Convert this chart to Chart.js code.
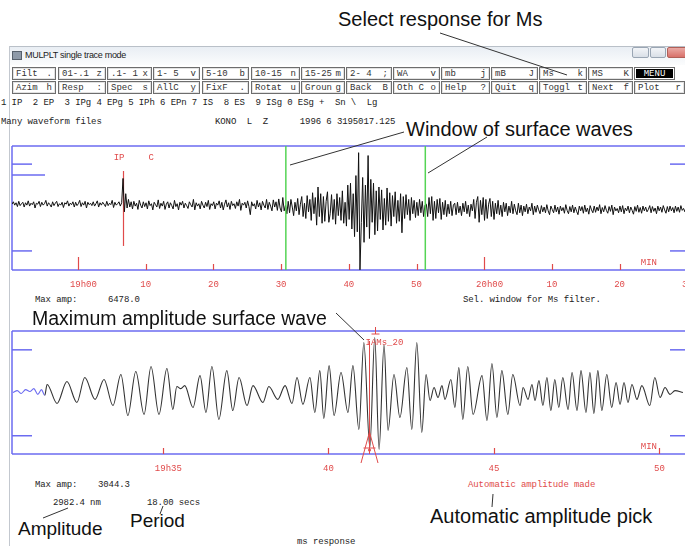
<!DOCTYPE html>
<html><head><meta charset="utf-8">
<script src="https://cdn.jsdelivr.net/npm/chart.js@4.4.1/dist/chart.umd.min.js"></script>
<style>
html,body{margin:0;padding:0;background:#fff;}
#win{position:relative;width:685px;height:546px;overflow:hidden;background:#fff;font-family:"Liberation Mono",monospace;}
.t{position:absolute;white-space:pre;font-size:9px;line-height:10px;color:#222;letter-spacing:-0.1px;}
.red{color:#e04a4a;}
.big{position:absolute;white-space:nowrap;font-family:"Liberation Sans",Arial,sans-serif;font-size:20px;line-height:20px;color:#111;}
.btn{position:absolute;height:13px;box-sizing:border-box;border:1px solid #6d6d6d;box-shadow:inset 0 0 0 1px #e2e2e2;display:flex;justify-content:space-between;align-items:center;padding:0 3px;font-size:9px;color:#333;background:#fff;white-space:pre;}
.btn.menu{background:#000;color:#fff;box-shadow:inset 0 0 0 1px #fff;justify-content:center;}
canvas{position:absolute;left:0;}
.wc{position:absolute;top:47px;height:11px;box-sizing:border-box;border:1px solid #9aa6b4;border-radius:2px;background:linear-gradient(#f3f5f8,#d9dfe7);}
</style>
</head><body>
<div id="win">
  <div style="position:absolute;left:9px;top:46px;width:676px;height:18px;background:linear-gradient(#e9eef4,#fbfcfd);border-top:1px solid #b9c0c8;"></div>
  <div style="position:absolute;left:9px;top:46px;width:1px;height:500px;background:#c3c8cf;"></div>
  <div style="position:absolute;left:12px;top:51px;width:8px;height:7px;background:#8d99a8;border:1px solid #56606c;"></div>
  <div style="position:absolute;left:25px;top:50px;font-family:'Liberation Sans',sans-serif;font-size:9px;letter-spacing:-0.3px;color:#222;white-space:nowrap;">MULPLT single trace mode</div>
  <div class="wc" style="left:632px;width:17px;"></div>
  <div class="wc" style="left:650px;width:16px;"></div>
  <div class="wc" style="left:667px;width:20px;background:linear-gradient(#eaa9a4,#d8716a);border-color:#b06058;"></div>

  <div id="menu"></div>

  <div class="t" style="left:1px;top:98px;">1 IP  2 EP  3 IPg 4 EPg 5 IPh 6 EPn 7 IS  8 ES  9 ISg 0 ESg +  Sn \  Lg</div>
  <div class="t" style="left:1px;top:117px;">Many waveform files</div>
  <div class="t" style="left:215px;top:117px;">KONO  L  Z      1996 6 3195017.125</div>

  <canvas id="c1" width="720" height="154" style="top:140px;"></canvas>
  <canvas id="c2" width="720" height="153" style="top:325px;"></canvas>

  <div class="t" style="left:35px;top:295px;">Max amp:</div>
  <div class="t" style="left:108px;top:295px;">6478.0</div>
  <div class="t" style="left:463px;top:295px;">Sel. window for Ms filter.</div>

  <div class="t" style="left:35px;top:480px;">Max amp:</div>
  <div class="t" style="left:98px;top:480px;">3044.3</div>
  <div class="t" style="left:53px;top:498px;">2982.4 nm</div>
  <div class="t" style="left:147px;top:498px;">18.00 secs</div>
  <div class="t red" style="left:468px;top:480px;">Automatic amplitude made</div>
  <div class="t" style="left:297px;top:537px;">ms response</div>

  <div class="big" style="left:338px;top:9px;">Select response for Ms</div>
  <div class="big" style="left:406px;top:119px;">Window of surface waves</div>
  <div class="big" style="left:32px;top:308px;font-size:19.5px;">Maximum amplitude surface wave</div>
  <div class="big" style="left:18px;top:519px;font-size:19px;">Amplitude</div>
  <div class="big" style="left:130px;top:511px;font-size:19px;">Period</div>
  <div class="big" style="left:430px;top:506px;">Automatic amplitude pick</div>

  <svg width="685" height="546" style="position:absolute;left:0;top:0;pointer-events:none;">
    <g stroke="#333" stroke-width="1" fill="none">
      <line x1="440" y1="33" x2="567" y2="75"/>
      <line x1="290" y1="165" x2="404" y2="132"/>
      <line x1="428" y1="173" x2="487" y2="137"/>
      <line x1="336" y1="313" x2="364" y2="340"/>
      <line x1="68" y1="508" x2="43" y2="518"/>
      <line x1="163" y1="506" x2="160" y2="514"/>
      <line x1="493" y1="494" x2="492" y2="507"/>
    </g>
  </svg>
</div>
<script>
// ---------------- data ----------------
// Menu buttons: [label, hotkey, left, right]
const menuRow1 = [["Filt",".",12,56],["01-.1","z",58,106],[".1- 1","x",107,152],["1- 5","v",153,200],["5-10","b",202,249],["10-15","n",251,300],["15-25","m",301,345],["2- 4",";",346,392],["WA","v",393,440],["mb","j",441,490],["mB","J",491,538],["Ms","k",539,587],["MS","K",588,633],["MENU","",634,675]];
const menuRow2 = [["Azim","h",12,56],["Resp",":",58,106],["Spec","s",107,152],["AllC","y",153,200],["FixF",".",202,249],["Rotat","u",251,300],["Groun","g",301,345],["Back","B",346,392],["Oth C","o",393,440],["Help","?",441,490],["Quit","q",491,538],["Toggl","t",539,587],["Next","f",588,633],["Plot","r",634,685]];

// Top trace: KONO L Z, minutes after 19h00, one sample every 0.2 min, counts
const TOP_T0 = -9.75, TOP_DT = 0.2;
const topAmps = [
  400,650,300,550,150,700,250,450,600,100,
  550,300,750,200,500,350,650,0,500,400,
  700,150,600,300,450,800,200,550,350,100,
  650,250,500,700,150,450,300,600,50,550,
  400,750,200,500,350,650,100,600,250,450,
  800,150,550,300,700,0,600,350,500,250,
  650,200,450,750,100,550,300,600,400,150,
  700,250,500,350,800,50,600,300,450,650,
  200,550,3100,-400,1500,0,900,100,650,-100,
  700,200,500,-150,800,300,0,650,150,550,
  -100,750,250,450,-200,600,350,100,850,-50,
  500,200,700,-150,400,650,0,550,250,-100,
  800,150,450,-200,600,300,700,0,500,250,
  -50,650,350,100,900,-200,550,200,450,-100,
  700,300,0,600,150,800,-150,450,250,650,
  -100,500,300,750,0,600,-200,400,850,100,
  550,-150,700,250,450,-50,650,200,900,-250,
  500,300,600,0,750,150,-700,650,200,450,
  -100,800,100,550,-200,700,300,0,900,-150,
  600,200,-300,850,100,650,-250,950,0,-400,
  1100,-300,300,-600,700,-500,900,100,-800,600,
  -300,1000,-700,400,1200,-900,500,-1100,1300,-400,
  900,-1300,1600,-600,1100,-1800,2200,-900,1500,-1600,
  1200,-1400,700,1700,-1500,-600,1400,-1200,900,-1700,
  1500,-800,1100,-1300,1800,-1600,600,-1900,2400,-1200,
  2600,-2200,1500,-3000,3400,-2500,5800,-6478,-1500,3200,
  -3600,2400,-2000,5500,-3200,3000,-1500,2600,-2800,1800,
  -2400,2200,-1200,1900,-2300,1000,-1800,2100,-1400,1600,
  -1900,1300,-900,1700,-1600,800,-1400,1500,-2600,1200,
  -1100,1400,-700,900,-1300,1100,-600,800,-1000,600,
  -800,900,-500,700,-900,300,400,-900,1100,-600,
  1200,-1300,700,-1100,900,-500,1000,-1200,600,-700,
  800,-900,400,-600,700,-800,300,500,-700,600,
  -500,200,-800,500,-400,700,-600,300,-900,400,
  -300,900,-1100,600,1200,-1500,800,-700,1100,-1300,
  900,-1100,400,1000,-900,700,-1200,500,-600,800,
  -700,300,-900,600,-400,500,-800,200,-500,700,
  -600,400,-300,-700,500,-500,300,-800,200,-400,
  400,-600,100,-300,500,-700,200,-450,300,-200,
  -600,250,-400,100,-500,350,-300,-700,200,-150,
  -500,300,-400,100,-650,200,-300,50,-550,350,
  -250,-600,150,-400,300,-500,100,-350,-700,200,
  -300,150,-550,300,-400,0,-650,250,-200,-500,
  200,-450,100,-300,350,-600,50,-400,250,-250,
  -550,150,-350,300,-700,100,-300,-50,-500,200,
  -400,250,-600,0,-300,200,-500,100,-250,-650,
  150,-350,300,-450,50,-550,200,-300,100,-400,
  -150,250,-500,150,-350,0,-600,200,-300,100,
  -450,250,-200,-550,150,-400,200,-300,50,-500,
  200,-350,100,-450,250,-250,-50,-400,150,-200
];
const topTicks = [0,10,20,30,40,50,60,70,80,90];
const topPick = {t:6.65, label:"IP", pol:"C"};
const msWindow = [30.7, 51.3];

// Bottom trace: Ms-filtered window, minutes after 19h00, amplitude nm
const bottomTimes = [
  30.47,30.60,30.72,30.85,30.98,31.10,31.22,31.33,31.43,31.50,
  31.80,32.10,32.40,32.64,32.95,33.22,33.49,33.73,33.94,34.18,
  34.43,34.64,34.88,35.12,35.30,35.42,35.54,35.66,35.91,36.12,
  36.30,36.48,36.69,36.93,37.11,37.30,37.54,37.72,38.02,38.20,
  38.47,38.69,38.90,39.05,39.23,39.44,39.59,39.74,39.86,40.02,
  40.17,40.38,40.59,40.74,40.92,41.07,41.25,41.40,41.53,41.68,
  41.80,41.98,42.16,42.37,42.52,42.67,42.82,42.95,43.07,43.19,
  43.31,43.43,43.52,43.70,43.82,43.94,44.06,44.21,44.37,44.64,
  44.79,44.94,45.09,45.24,45.42,45.57,45.79,45.88,46.03,46.15,
  46.24,46.36,46.48,46.60,46.72,46.84,46.96,47.08,47.24,47.36,
  47.51,47.63,47.78,47.90,48.02,48.14,48.26,48.41,48.56,48.69,
  48.81,48.93,49.05,49.17,49.32,49.47,49.71,49.86,50.02,50.17,
  50.32,50.47,50.71
];
const bottomAmps = [
  0,100,-50,150,50,200,-100,150,-150,420,
  -570,570,-520,780,-360,680,-680,940,-1200,1090,
  -1140,1350,-1140,1250,-880,310,200,360,-780,880,
  -1040,1350,-1400,1140,-940,780,-680,360,-520,310,
  -360,360,-570,780,-620,780,-1040,1140,-1350,1400,
  -1200,1040,-1040,1400,-1920,2600,-2860,2860,-2960,2500,
  -1980,940,-1300,1300,-1920,2600,-2080,940,-420,260,
  -260,360,-360,680,-780,1300,-1400,1350,-1140,880,
  -1460,1510,-1300,1140,-1140,940,-680,260,-360,420,
  -420,620,-680,780,-940,680,-780,780,-880,1040,
  -940,1140,-1040,1040,-1090,1140,-940,940,-780,520,
  -620,520,-520,420,-360,360,-680,780,-260,260,
  -100,100,0
];
const bottomTicks = [35,40,45,50];
const taperEnd = 31.43;
const ampPick = {t:41.22, peakT:41.40, label:"IAMs_20"};

// ---------------- drawing ----------------
const BLUE = '#6b6bf0', RED = '#e04a4a', GREEN = '#55d455';
const MONO = '"Liberation Mono", monospace';

function buildMenu(row, top){
  const m = document.getElementById('menu');
  row.forEach(([lab,key,l,r])=>{
    const d = document.createElement('div');
    d.className = 'btn' + (lab==='MENU' ? ' menu' : '');
    d.style.left = l+'px'; d.style.top = top+'px'; d.style.width = (r-l)+'px';
    if (lab==='MENU') d.textContent = lab;
    else d.innerHTML = '<span>'+lab+'</span><span>'+key+'</span>';
    m.appendChild(d);
  });
}
buildMenu(menuRow1, 67);
buildMenu(menuRow2, 81);

function seg(ctx, x1, y1, x2, y2){ ctx.beginPath(); ctx.moveTo(x1,y1); ctx.lineTo(x2,y2); ctx.stroke(); }

function tickLabel(v, i){
  const mm = v % 60;
  if (i === 0 || mm === 0) return '  ' + (19 + Math.floor(v/60)) + 'h' + String(mm).padStart(2,'0');
  return String(mm);
}

const tracePlugin = {
  id: 'trace',
  beforeDatasetsDraw(chart, args, o){
    const {ctx, chartArea:a, scales:{x, y}} = chart;
    ctx.save();
    ctx.strokeStyle = BLUE; ctx.lineWidth = 1.5;
    seg(ctx, a.left, a.top, a.right, a.top);
    seg(ctx, a.left, a.bottom, a.right, a.bottom);
    seg(ctx, a.left, a.top, a.left, a.bottom);
    o.leftMarks.forEach(([v,len]) => seg(ctx, a.left, y.getPixelForValue(v), a.left+len, y.getPixelForValue(v)));
    o.rightMarks.forEach(v => seg(ctx, 670, y.getPixelForValue(v), 686, y.getPixelForValue(v)));
    ctx.strokeStyle = RED; ctx.lineWidth = 1.2;
    x.ticks.forEach(t => {
      const px = Math.round(x.getPixelForValue(t.value)) + 0.5;
      const len = (o.hourTicks && t.value % 60 === 0) ? 13 : 6;
      seg(ctx, px, a.bottom, px, a.bottom - len);
    });
    if (o.pick){
      const px = Math.round(x.getPixelForValue(o.pick.t)) + 0.5;
      ctx.lineWidth = 1.2;
      seg(ctx, px, y.getPixelForValue(3880), px, y.getPixelForValue(-3980));
      ctx.fillStyle = RED; ctx.font = '9px ' + MONO; ctx.textBaseline = 'middle';
      ctx.textAlign = 'right'; ctx.fillText(o.pick.label, px + 1, a.top + 12);
      ctx.textAlign = 'left'; ctx.fillText(o.pick.pol, px + 25, a.top + 12);
    }
    ctx.restore();
  },
  afterDatasetsDraw(chart, args, o){
    const {ctx, chartArea:a, scales:{x, y}} = chart;
    ctx.save();
    if (o.window){
      ctx.strokeStyle = GREEN; ctx.lineWidth = 1.5;
      o.window.forEach(t => { const px = x.getPixelForValue(t); seg(ctx, px, a.top, px, a.bottom); });
    }
    if (o.amp){
      const px = Math.round(x.getPixelForValue(o.amp.t)) + 0.5;
      ctx.strokeStyle = RED; ctx.fillStyle = RED; ctx.lineWidth = 1;
      seg(ctx, px, y.getPixelForValue(2680), px, a.bottom);
      ctx.beginPath();
      ctx.moveTo(px - 8.5, a.bottom + 9); ctx.lineTo(px, a.bottom - 22); ctx.lineTo(px + 8.5, a.bottom + 9);
      ctx.stroke();
      seg(ctx, px - 6, a.bottom - 6, px + 6, a.bottom - 6);
      ctx.beginPath(); ctx.arc(px, a.bottom - 4, 1.5, 0, Math.PI*2); ctx.fill();
      const pk = Math.round(x.getPixelForValue(o.amp.peakT)) + 0.5;
      seg(ctx, pk, a.top - 4, pk, a.top + 3);
      seg(ctx, pk - 4, a.top + 3, pk + 4, a.top + 3);
      ctx.font = '9px ' + MONO; ctx.textBaseline = 'middle'; ctx.textAlign = 'left';
      ctx.fillText(o.amp.label, px - 4, y.getPixelForValue(2570));
    }
    ctx.fillStyle = RED; ctx.font = '9px ' + MONO; ctx.textBaseline = 'middle'; ctx.textAlign = 'right';
    ctx.fillText('MIN', 657, a.bottom - 7);
    ctx.restore();
  }
};

function xScale(min, max, ticks){
  return {
    type:'linear', min, max,
    grid:{display:false, drawTicks:false}, border:{display:false},
    afterBuildTicks: s => { s.ticks = ticks.map(v => ({value:v})); },
    afterFit: s => { s.height = 24; },
    ticks:{autoSkip:false, maxRotation:0, padding:9, color:RED, font:{family:MONO, size:9}, callback:(v,i)=>tickLabel(v,i)}
  };
}

new Chart(document.getElementById('c1'), {
  type:'line',
  data:{datasets:[{
    data: topAmps.map((v,i)=>({x: TOP_T0 + i*TOP_DT, y: v})),
    borderColor:'#111', borderWidth:1, pointRadius:0, tension:0
  }]},
  options:{
    responsive:false, animation:false, devicePixelRatio:1,
    layout:{padding:{left:12, top:6, right:0, bottom:0}},
    plugins:{legend:{display:false}, tooltip:{enabled:false},
      trace:{hourTicks:true, leftMarks:[[4600,20],[3450,33],[-4500,20]], rightMarks:[4600,-4500], pick:topPick, window:msWindow}},
    scales:{ x: xScale(-9.75, 94.83, topTicks), y:{display:false, min:-6500, max:6500} }
  },
  plugins:[tracePlugin]
});

new Chart(document.getElementById('c2'), {
  type:'line',
  data:{datasets:[{
    data: bottomTimes.map((t,i)=>({x:t, y:bottomAmps[i]})),
    borderColor:'#333', borderWidth:1.1, pointRadius:0, cubicInterpolationMode:'monotone',
    segment:{borderColor: c => c.p1.parsed.x <= taperEnd ? BLUE : '#333'}
  }]},
  options:{
    responsive:false, animation:false, devicePixelRatio:1,
    layout:{padding:{left:12, top:6, right:0, bottom:0}},
    plugins:{legend:{display:false}, tooltip:{enabled:false},
      trace:{hourTicks:false, leftMarks:[[2220,20],[-2250,20]], rightMarks:[2220,-2250], amp:ampPick}},
    scales:{ x: xScale(30.44, 51.83, bottomTicks), y:{display:false, min:-3200, max:3200} }
  },
  plugins:[tracePlugin]
});
</script>
</body></html>
